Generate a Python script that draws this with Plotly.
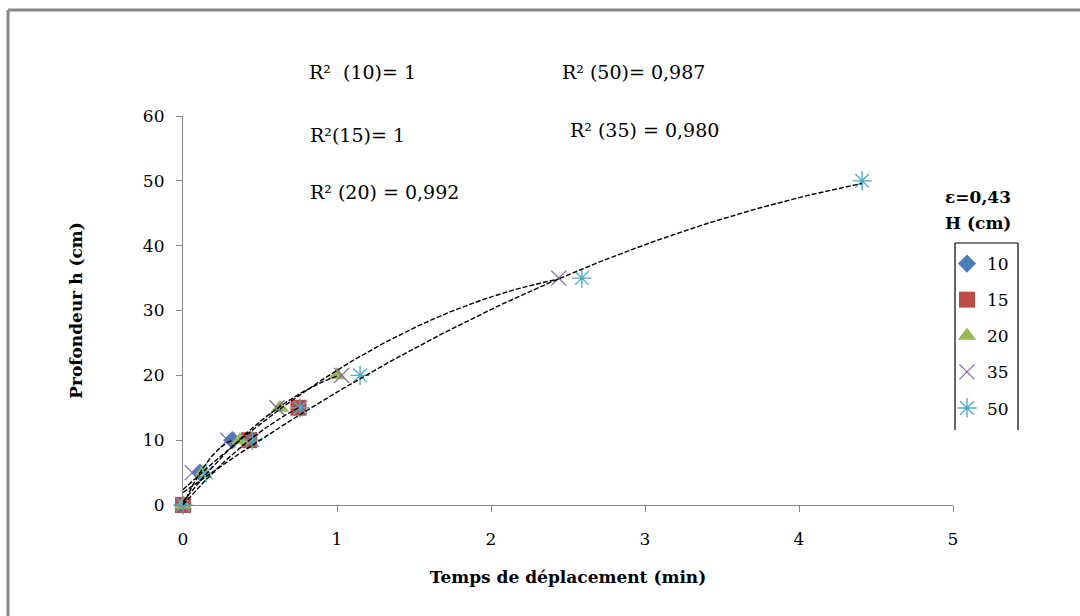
import numpy as np
import plotly.graph_objects as go

# ---- data ----
series_names = ["10", "15", "20", "35", "50"]
x_10 = [0, 0.11, 0.32]
y_10 = [0, 5, 10]
x_15 = [0, 0.43, 0.75]
y_15 = [0, 10, 15]
x_20 = [0, 0.13, 0.37, 0.63, 1.0]
y_20 = [0, 5, 10, 15, 20]
x_35 = [0, 0.06, 0.29, 0.61, 1.03, 2.44]
y_35 = [0, 5, 10, 15, 20, 35]
x_50 = [0, 0.15, 0.45, 0.76, 1.15, 2.59, 4.41]
y_50 = [0, 5, 10, 15, 20, 35, 50]
fit_degree = {"10": 2, "15": 2, "20": 2, "35": 2, "50": 2}
r2_labels = ["R²  (10)= 1", "R² (50)= 0,987", "R²(15)= 1", "R² (35) = 0,980", "R² (20) = 0,992"]
x_ticks = [0, 1, 2, 3, 4, 5]
y_ticks = [0, 10, 20, 30, 40, 50, 60]

xs = {"10": x_10, "15": x_15, "20": x_20, "35": x_35, "50": x_50}
ys = {"10": y_10, "15": y_15, "20": y_20, "35": y_35, "50": y_50}

styles = {
    "10": dict(symbol="diamond", color="#4A7EBB", size=14, line=dict(width=0)),
    "15": dict(symbol="square", color="#BE4B48", size=16, line=dict(width=0)),
    "20": dict(symbol="triangle-up", color="#98B954", size=16, line=dict(width=0)),
    "35": dict(symbol="x-thin-open", color="#8064A2", size=15, line=dict(width=1.2, color="#9C8AB8")),
    "50": dict(symbol="asterisk-open", color="#4BACC6", size=16, line=dict(width=1.4, color="#4BACC6")),
}

FONT = "DejaVu Serif"
W, H = 1080, 616
L, R, T, B = 183, 127, 116, 111
pw, ph = W - L - R, H - T - B

def px2x(px):
    return (px - L) / pw

def px2y(py):
    return (H - B - py) / ph

fig = go.Figure()

for name in series_names:
    fig.add_trace(go.Scatter(
        x=xs[name], y=ys[name], mode="markers", name=name,
        marker=styles[name], legendgroup=name, cliponaxis=False,
    ))

for name in series_names:
    coef = np.polyfit(xs[name], ys[name], fit_degree[name])
    xf = np.linspace(0, max(xs[name]), 120)
    yf = np.polyval(coef, xf)
    fig.add_trace(go.Scatter(
        x=xf, y=yf, mode="lines", showlegend=False, hoverinfo="skip",
        line=dict(color="black", width=1.4, dash="5px,2px"), cliponaxis=False,
    ))

# R² annotations (pixel positions)
ann_pos = [(307, 72), (560, 72), (308, 135), (568, 130), (308, 192)]
annotations = []
for text, (ax, ay) in zip(r2_labels, ann_pos):
    annotations.append(dict(
        x=px2x(ax), y=px2y(ay), xref="paper", yref="paper", text=text,
        showarrow=False, xanchor="left", yanchor="middle",
        font=dict(family=FONT, size=19, color="black"),
    ))
annotations.append(dict(
    x=px2x(978), y=px2y(197), xref="paper", yref="paper", text="<b>ε=0,43</b>",
    showarrow=False, xanchor="center", yanchor="middle",
    font=dict(family=FONT, size=17, color="black"),
))
annotations.append(dict(
    x=px2x(978), y=px2y(223), xref="paper", yref="paper", text="<b>H (cm)</b>",
    showarrow=False, xanchor="center", yanchor="middle",
    font=dict(family=FONT, size=17, color="black"),
))

shapes = []
# outer chart border (top and left visible)
border = dict(color="#888888", width=3)
shapes.append(dict(type="line", xref="paper", yref="paper",
                   x0=px2x(8), y0=px2y(10), x1=px2x(1085), y1=px2y(10), line=border))
shapes.append(dict(type="line", xref="paper", yref="paper",
                   x0=px2x(8), y0=px2y(10), x1=px2x(8), y1=px2y(620), line=border))
# legend frame (open at bottom)
lf = dict(color="black", width=1.2)
shapes.append(dict(type="line", xref="paper", yref="paper",
                   x0=px2x(955), y0=px2y(243), x1=px2x(1018), y1=px2y(243), line=lf))
shapes.append(dict(type="line", xref="paper", yref="paper",
                   x0=px2x(955), y0=px2y(243), x1=px2x(955), y1=px2y(430), line=lf))
shapes.append(dict(type="line", xref="paper", yref="paper",
                   x0=px2x(1018), y0=px2y(243), x1=px2x(1018), y1=px2y(430), line=lf))

fig.update_layout(
    width=W, height=H,
    margin=dict(l=L, r=R, t=T, b=B),
    paper_bgcolor="white", plot_bgcolor="white",
    font=dict(family=FONT, size=17, color="black"),
    showlegend=True,
    legend=dict(
        x=px2x(947), y=px2y(246), xanchor="left", yanchor="top",
        bgcolor="rgba(0,0,0,0)", borderwidth=0,
        font=dict(family=FONT, size=17, color="black"),
        tracegroupgap=11, itemwidth=30,
    ),
    annotations=annotations,
    shapes=shapes,
)

fig.update_xaxes(
    range=[0, 5], tickvals=x_ticks, ticktext=[str(v) for v in x_ticks],
    showgrid=False, zeroline=False, showline=True, linecolor="#888888", linewidth=1.2,
    ticks="outside", ticklen=6, tickcolor="#888888", ticklabelstandoff=12,
    tickfont=dict(family=FONT, size=17, color="black"),
    title=dict(text="<b>Temps de déplacement (min)</b>", standoff=23,
               font=dict(family=FONT, size=17, color="black")),
)
fig.update_yaxes(
    range=[0, 60], tickvals=y_ticks, ticktext=[str(v) for v in y_ticks],
    showgrid=False, zeroline=False, showline=True, linecolor="#888888", linewidth=1.2,
    ticks="outside", ticklen=6, tickcolor="#888888", ticklabelstandoff=8,
    tickfont=dict(family=FONT, size=17, color="black"),
    title=dict(text="<b>Profondeur h (cm)</b>", standoff=55,
               font=dict(family=FONT, size=17, color="black")),
)

fig.write_html("out.html")
